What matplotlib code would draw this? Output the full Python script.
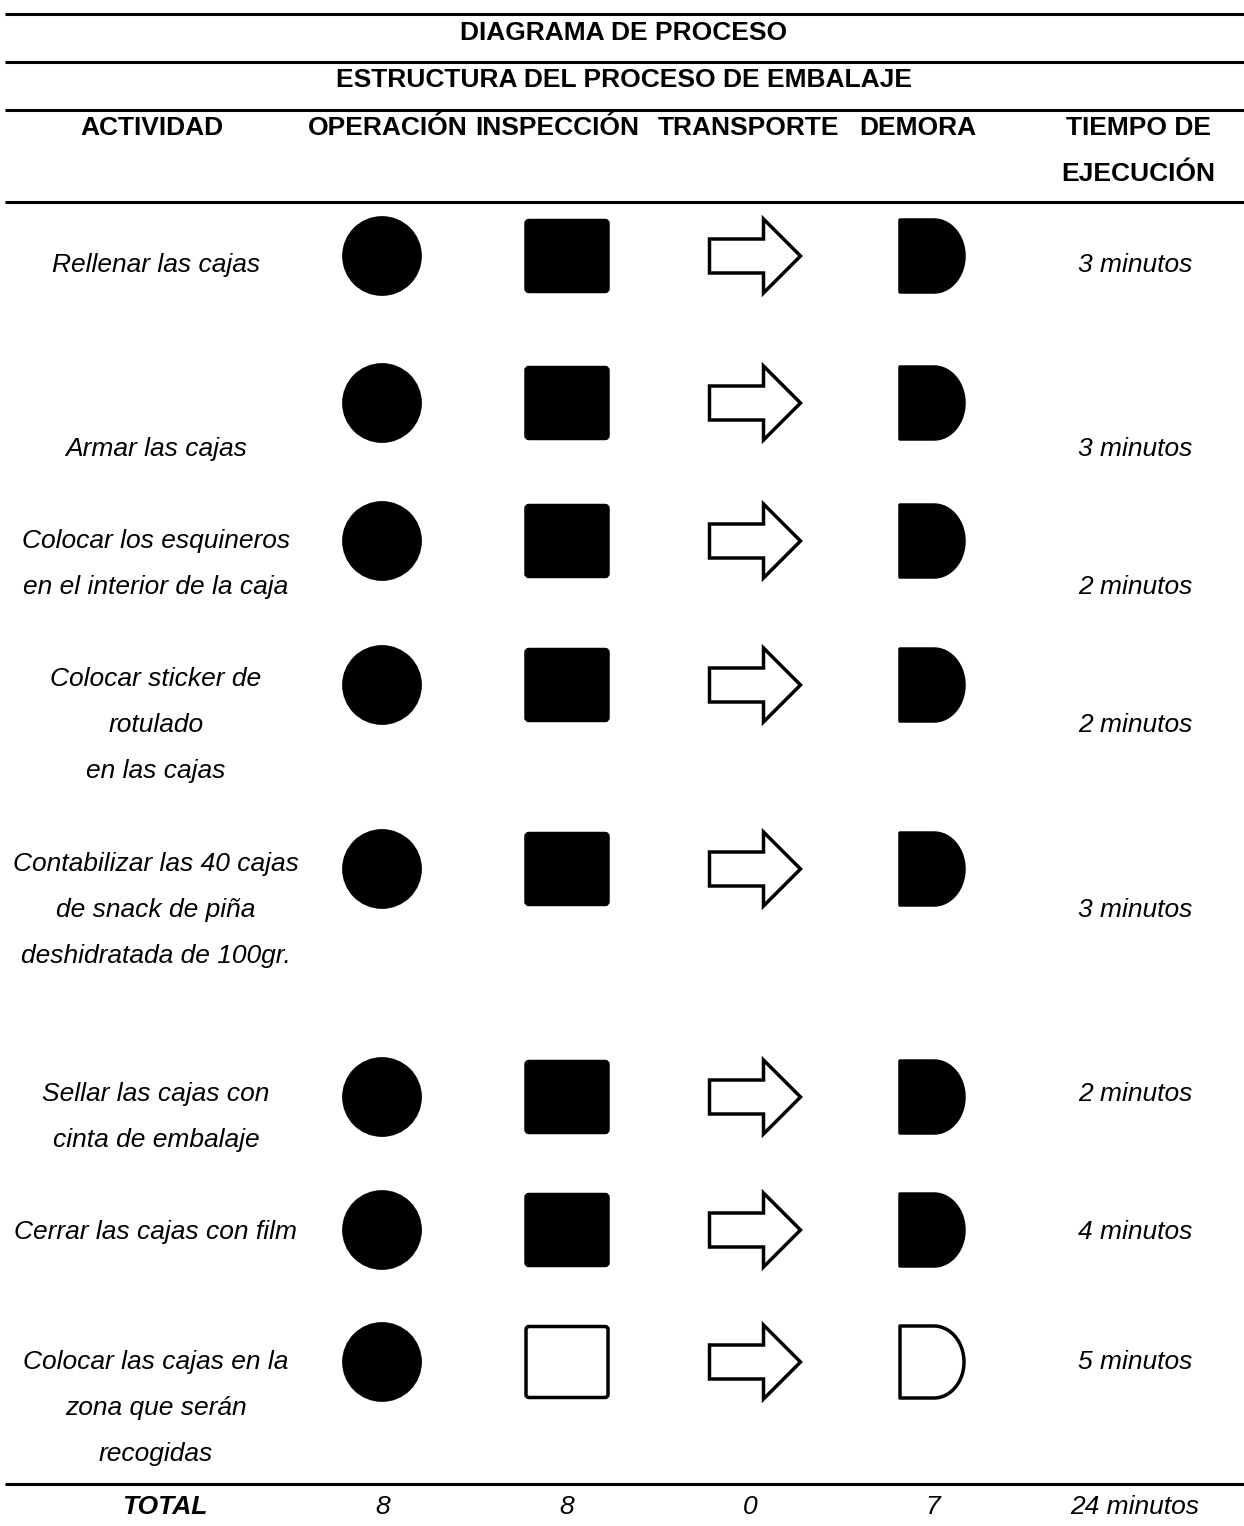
import matplotlib
matplotlib.use('Agg')
import matplotlib.pyplot as plt
from matplotlib.patches import Ellipse, FancyBboxPatch, Polygon
import numpy as np

plt.rcParams['font.family'] = ['Liberation Sans', 'DejaVu Sans']

# ---- data ----
titulo = "DIAGRAMA DE PROCESO"
subtitulo = "ESTRUCTURA DEL PROCESO DE EMBALAJE"
columnas = ["ACTIVIDAD", "OPERACIÓN", "INSPECCIÓN", "TRANSPORTE", "DEMORA", "TIEMPO DE\nEJECUCIÓN"]

actividades = [
    ["Rellenar las cajas"],
    ["Armar las cajas"],
    ["Colocar los esquineros", "en el interior de la caja"],
    ["Colocar sticker de", "rotulado", "en las cajas"],
    ["Contabilizar las 40 cajas", "de snack de piña", "deshidratada de 100gr."],
    ["Sellar las cajas con", "cinta de embalaje"],
    ["Cerrar las cajas con film"],
    ["Colocar las cajas en la", "zona que serán", "recogidas"],
]
tiempos_min = [3, 3, 2, 2, 3, 2, 4, 5]

# 1 = symbol marked (filled), 0 = empty outline
operacion  = [1, 1, 1, 1, 1, 1, 1, 1]
inspeccion = [1, 1, 1, 1, 1, 1, 1, 0]
transporte = [0, 0, 0, 0, 0, 0, 0, 0]
demora     = [1, 1, 1, 1, 1, 1, 1, 0]

# totals as printed in the source table
totales = [8, 8, 0, 7]
total_tiempo = "24 minutos"

# ---- layout (pixels) ----
W, H = 1244, 1526
fig = plt.figure(figsize=(W / 100, H / 100), dpi=100)
ax = fig.add_axes([0, 0, 1, 1])
ax.set_xlim(0, W)
ax.set_ylim(H, 0)
ax.axis('off')

fs = 19
col_x = [156, 382, 567, 755, 932, 1135]
head_x = [152, 388, 557, 748, 918, 1138]
sym_y = [256, 403, 541, 685, 869, 1097, 1230, 1362]
txt_y = [265, 449, 541, 679, 864, 1094, 1232, 1362]
time_y = [265, 449, 587, 725, 910, 1094, 1232, 1362]
pitch = 46

for y in [14, 62, 110, 202, 1484]:
    ax.plot([5, W], [y, y], color='black', lw=2.2, solid_capstyle='butt')

ax.text(624, 33, titulo, ha='center', va='center', fontsize=fs, fontweight='bold')
ax.text(624, 80, subtitulo, ha='center', va='center', fontsize=fs, fontweight='bold')
for x, c in zip(head_x, columnas):
    for i, line in enumerate(c.split("\n")):
        ax.text(x, 128 + i * pitch, line, ha='center', va='center', fontsize=fs, fontweight='bold')


def circle(cx, cy, filled):
    ax.add_patch(Ellipse((cx, cy), 77, 77, facecolor='black' if filled else 'white',
                         edgecolor='black', lw=2))


def square(cx, cy, filled):
    w, h = 82, 71
    ax.add_patch(FancyBboxPatch((cx - w / 2, cy - h / 2), w, h, boxstyle="round,pad=0,rounding_size=3",
                                facecolor='black' if filled else 'white', edgecolor='black', lw=2.5))


def arrow(cx, cy, filled):
    w, h, sh, hl = 91, 74, 34, 37
    x0, x1 = cx - w / 2, cx + w / 2
    xs = x1 - hl
    pts = [(x0, cy - sh / 2), (xs, cy - sh / 2), (xs, cy - h / 2), (x1, cy),
           (xs, cy + h / 2), (xs, cy + sh / 2), (x0, cy + sh / 2)]
    ax.add_patch(Polygon(pts, closed=True, facecolor='black' if filled else 'white',
                         edgecolor='black', lw=2.5, joinstyle='miter'))


def delay(cx, cy, filled):
    w, h = 64, 72
    x0 = cx - w / 2
    rx = w * 0.47
    xs = x0 + w - rx
    t = np.linspace(-np.pi / 2, np.pi / 2, 60)
    arc = [(xs + rx * np.cos(a), cy + (h / 2) * np.sin(a)) for a in t]
    pts = [(x0, cy + h / 2), (x0, cy - h / 2)] + arc + [(x0, cy + h / 2)]
    ax.add_patch(Polygon(pts, closed=True, facecolor='black' if filled else 'white',
                         edgecolor='black', lw=2.5, joinstyle='round'))


for r in range(len(actividades)):
    for i, line in enumerate(actividades[r]):
        ax.text(col_x[0], txt_y[r] + i * pitch, line, ha='center', va='center',
                fontsize=fs, style='italic')
    circle(col_x[1], sym_y[r], operacion[r])
    square(col_x[2], sym_y[r], inspeccion[r])
    arrow(col_x[3], sym_y[r], transporte[r])
    delay(col_x[4], sym_y[r], demora[r])
    ax.text(col_x[5], time_y[r], f"{tiempos_min[r]} minutos", ha='center', va='center',
            fontsize=fs, style='italic')

# totals row
ty = 1507
ax.text(165, ty, "TOTAL", ha='center', va='center', fontsize=fs, style='italic', fontweight='bold')
for x, v in zip([383, 567, 750, 933], totales):
    ax.text(x, ty, str(v), ha='center', va='center', fontsize=fs, style='italic')
ax.text(col_x[5], ty, total_tiempo, ha='center', va='center', fontsize=fs, style='italic')

fig.savefig("out.png", dpi=100)
